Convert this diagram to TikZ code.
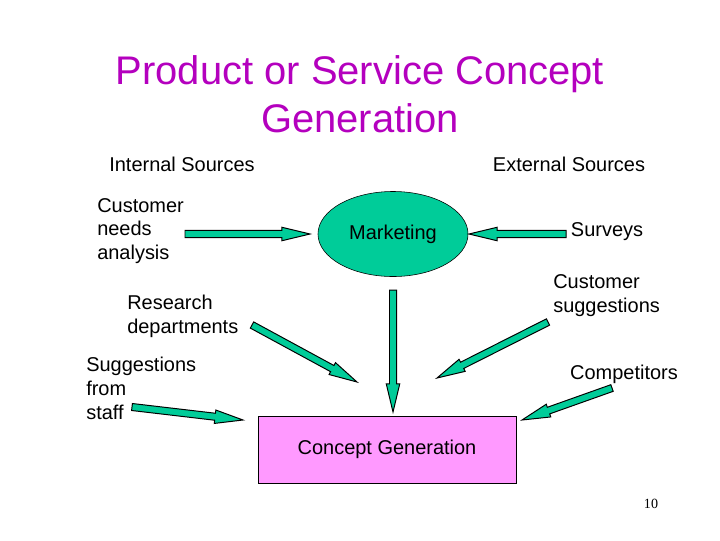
\documentclass[tikz,border=0pt]{standalone}
\usepackage{fontspec}
\setmainfont{Liberation Sans}
\newfontfamily\pagenumfont{Liberation Serif}
\usetikzlibrary{shapes.geometric,calc}

\definecolor{titlepurple}{RGB}{180,0,190}
\definecolor{arrowgreen}{RGB}{0,204,153}
\definecolor{boxpink}{RGB}{255,153,255}

% block arrow from tail #1 to tip #2
\newcommand{\blockarrow}[2]{%
  \coordinate (hb) at ($(#2)!20pt!(#1)$);
  \filldraw[fill=arrowgreen, draw=black, line width=0.7pt, line join=miter]
    ($(#1)!2.5pt!90:(#2)$) -- ($(hb)!2.5pt!90:(#2)$) -- ($(hb)!4.8pt!90:(#2)$)
    -- (#2) -- ($(hb)!4.8pt!-90:(#2)$) -- ($(hb)!2.5pt!-90:(#2)$)
    -- ($(#1)!2.5pt!-90:(#2)$) -- cycle;}

\begin{document}
\begin{tikzpicture}
        [x=0.025cm, y=-0.025cm,
        label/.style={inner sep=0pt, font=\fontsize{14.2}{17}\selectfont},
        source/.style={label, anchor=west, align=left},
        market/.style={ellipse, draw, fill=arrowgreen, minimum width=3.75cm, minimum height=2.125cm, label},
        conceptbox/.style={rectangle, draw, fill=boxpink, minimum width=6.45cm, minimum height=1.675cm, label}]
        \useasboundingbox (0,0) rectangle (720,540);

        \node[align=center, text=titlepurple, inner sep=0pt, font=\fontsize{28.4}{34}\selectfont] (title) at (360,94) {Product or Service Concept\\Generation};
        \node[label] (internal) at (182,164) {Internal Sources};
        \node[label] (external) at (569,164) {External Sources};

        \node[source] (needs) at (97,231) {Customer\\needs\\analysis};
        \node[source] (research) at (127,316) {Research\\departments};
        \node[source] (staff) at (86,388) {Suggestions\\from\\staff};
        \node[label] (surveys) at (607,232) {Surveys};
        \node[source] (suggest) at (553,296) {Customer\\suggestions};
        \node[label] (competitors) at (624,374) {Competitors};

        \node[market] (marketing) at (393,234) {Marketing};
        \node[conceptbox] (concept) at (387,449.5) {Concept Generation};

        \node[inner sep=0pt, font=\pagenumfont\fontsize{10}{12}\selectfont] (pagenum) at (651,504) {10};

        \coordinate (needs-a) at (185,234);     \coordinate (needs-b) at (310,234);
        \coordinate (surveys-a) at (566,234);   \coordinate (surveys-b) at (469,234);
        \coordinate (research-a) at (252,325);  \coordinate (research-b) at (357,382);
        \coordinate (market-a) at (393,290);    \coordinate (market-b) at (393,412);
        \coordinate (suggest-a) at (548,322);   \coordinate (suggest-b) at (437,378);
        \coordinate (staff-a) at (132,407);     \coordinate (staff-b) at (243,420);
        \coordinate (compet-a) at (612,388);    \coordinate (compet-b) at (522,420);

        \blockarrow{needs-a}{needs-b}
        \blockarrow{surveys-a}{surveys-b}
        \blockarrow{research-a}{research-b}
        \blockarrow{market-a}{market-b}
        \blockarrow{suggest-a}{suggest-b}
        \blockarrow{staff-a}{staff-b}
        \blockarrow{compet-a}{compet-b}

    \end{tikzpicture}
\end{document}
